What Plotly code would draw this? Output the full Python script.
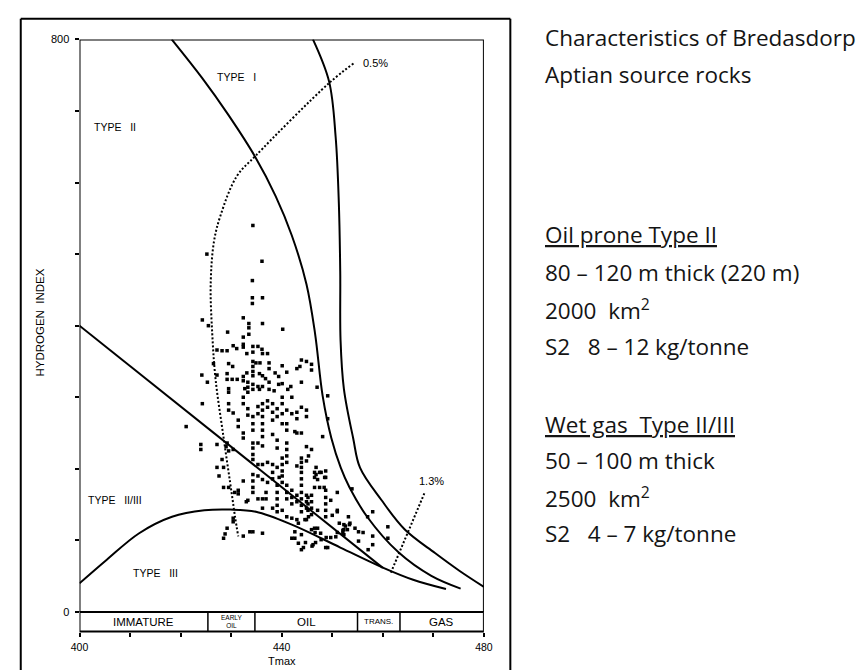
import plotly.graph_objects as go

W, H = 864, 670

# ---------------- data ----------------
# Boundary curves (Tmax °C, Hydrogen Index)
type1_tmax = [418.24, 424.28, 429.35, 434.74, 438.8, 442.0, 444.9, 446.6, 448.1, 449.83, 451.68, 453.4, 456.9, 463.1, 469.6, 475.4]
type1_hi = [800, 745.8, 695.5, 636, 581, 526, 458, 389, 302, 242.8, 201.6, 174.2, 133, 83.3, 50.4, 32.6]

outer_tmax = [446.18, 449.38, 450.67, 451.3, 451.58, 451.64, 452.31, 454.14, 455.49, 459.73, 464.35, 470.33, 475.14, 480.0]
outer_hi = [800, 741, 664, 572, 476, 380, 311.4, 242.8, 201.6, 156.4, 115.2, 82.3, 57.6, 35]

type23_tmax = [400.0, 430.0, 460.0]
type23_hi = [400, 230.8, 61.6]

type3_tmax = [400.0, 405.4, 411.8, 418.3, 424.7, 429.8, 434.9, 442.0, 451.6, 460.0, 466.0, 472.5]
type3_hi = [40, 73, 110, 133, 142, 143, 140, 122, 90, 62, 45, 32]

ro05_tmax = [454.2, 449.38, 434.93, 431.08, 427.88, 426.59, 425.95, 426.26, 426.92, 428.52, 430.12, 430.77, 431.4]
ro05_hi = [766.4, 739, 638, 608.4, 553.6, 517, 457.6, 389, 325, 242.8, 165, 133, 105.6]

ro13_tmax = [461.6, 468.3]
ro13_hi = [55, 167]

# Maturity zones along the Tmax axis
zone_edges = [400, 425.4, 434.7, 455.0, 463.4, 480]
zone_names = ["IMMATURE", "EARLY<br>OIL", "OIL", "TRANS.", "GAS"]

# Axis ticks
x_major = [400, 440, 480]
y_major = [0, 800]

# Samples (Tmax, HI)
samples = [
    (434.3, 540), (425.2, 500), (436.1, 490), (434.2, 463), (436.2, 439), (434.2, 439), (434.2, 431),
    (432.4, 411), (424.3, 408), (425.5, 400), (433.5, 403), (433.5, 397), (436.2, 403), (440.2, 395),
    (429.3, 391), (433.5, 388), (432.4, 384),
    (432.4, 374), (432.4, 370), (430.4, 372), (431.1, 368), (427.2, 366), (428.2, 365), (429.2, 365),
    (434.3, 371), (435.3, 371), (436.1, 367), (433.1, 361), (434.3, 363), (436.2, 361), (437.2, 361),
    (426.5, 347), (429.5, 347), (430.3, 343), (434.3, 350), (434.3, 343), (434.3, 336), (434.3, 330),
    (434.9, 348), (435.7, 348), (437.5, 348), (437.5, 340), (440.1, 344), (441.0, 335), (443.0, 340),
    (443.9, 352), (444.9, 350), (445.9, 346), (445.9, 338), (443.6, 343), (424.2, 331), (425.3, 321),
    (427.2, 331), (429.2, 333), (429.2, 325), (430.2, 325), (431.2, 325), (432.4, 329), (432.4, 323),
    (433.1, 334), (435.6, 333), (436.2, 330), (436.8, 326), (438.7, 334), (439.4, 329), (437.5, 321),
    (439.4, 318), (440.1, 319), (441.8, 315), (441.2, 311), (443.9, 321), (447.0, 314), (433.3, 321),
    (433.3, 314), (433.3, 307), (434.3, 318), (434.3, 311), (435.3, 315), (436.2, 315), (435.6, 311),
    (437.5, 311), (438.5, 309), (429.5, 312), (429.5, 307), (432.7, 312), (449.1, 302), (449.1, 270),
    (442.6, 252),
    (424.3, 291), (421.1, 259), (429.5, 291), (429.5, 282), (430.4, 278), (431.4, 268), (431.4, 259),
    (432.4, 300), (432.4, 291), (432.4, 250), (432.4, 243), (433.3, 284), (433.3, 275), (434.3, 273),
    (434.3, 263), (434.3, 254), (434.3, 236), (434.3, 229), (434.3, 220), (434.3, 213), (435.3, 287),
    (435.3, 277), (436.2, 291), (436.2, 282), (436.2, 273), (436.2, 263), (436.2, 254), (436.2, 245),
    (435.3, 236), (436.2, 232), (437.2, 295), (437.2, 286), (438.2, 291), (438.2, 279), (438.2, 268),
    (438.2, 248), (439.1, 284), (439.1, 273), (440.1, 300), (440.1, 291), (440.1, 277), (440.1, 263),
    (441.0, 282), (441.0, 263), (441.0, 254), (441.0, 236), (441.0, 227), (441.0, 218), (441.0, 209),
    (439.1, 240), (439.1, 229), (442.0, 300), (442.0, 277), (443.0, 279), (443.0, 270), (443.9, 286),
    (443.9, 250), (444.9, 282), (444.9, 273), (443.0, 250), (444.9, 231), (445.9, 227), (448.1, 245),
    (443.9, 215), (443.9, 209), (443.9, 202), (443.0, 204), (440.1, 215), (440.1, 206), (440.1, 197),
    (440.1, 190), (438.2, 206), (438.2, 195), (437.2, 209), (436.2, 206), (435.3, 206), (439.1, 202),
    (434.3, 192), (434.3, 183), (434.3, 174), (434.3, 167), (435.3, 190), (436.2, 185), (437.2, 181),
    (438.2, 186), (439.5, 188), (440.1, 181), (439.1, 177), (439.1, 167), (439.1, 158), (439.1, 149),
    (439.1, 140), (441.0, 177), (441.0, 167), (441.0, 158), (442.0, 170), (442.0, 160), (442.0, 151),
    (443.0, 163), (443.0, 154), (443.9, 195), (443.9, 186), (443.9, 177), (443.9, 167), (443.9, 158),
    (443.9, 149), (443.9, 140), (444.9, 163), (444.9, 154), (444.9, 145), (445.9, 163), (445.9, 154),
    (445.9, 145), (445.9, 136), (446.8, 202), (446.8, 192), (447.8, 195), (448.5, 188), (447.1, 185),
    (444.9, 211), (445.3, 218), (448.7, 170), (448.7, 160), (448.7, 151), (448.7, 142), (448.7, 133),
    (449.7, 156), (451.0, 167), (453.9, 172), (450.0, 135), (451.0, 142), (447.1, 142), (441.0, 133),
    (442.0, 131), (443.0, 129), (443.3, 124), (444.9, 129), (440.1, 142), (436.9, 167), (436.9, 158),
    (438.2, 145), (436.2, 145), (435.3, 158), (436.2, 158), (433.3, 156), (431.4, 170), (431.4, 165),
    (432.4, 183), (428.5, 174), (429.5, 174), (427.6, 190), (428.5, 202), (427.2, 202), (427.2, 234),
    (429.2, 236), (424.0, 234), (424.0, 227), (429.0, 231), (429.5, 225), (430.4, 227), (428.2, 213),
    (430.7, 167), (428.5, 103), (429.2, 117), (432.4, 106), (434.3, 112), (436.2, 110), (433.0, 154),
    (442.6, 112), (442.6, 103), (443.9, 108), (445.9, 115), (446.6, 111), (447.1, 117), (452.3, 122),
    (452.3, 115), (452.3, 108), (452.6, 120), (453.0, 115), (453.5, 124), (454.5, 117), (453.2, 133),
    (451.0, 111), (458.0, 140), (457.0, 133), (456.1, 111), (458.0, 106),
    (461.0, 119), (461.0, 103), (458.0, 94), (457.1, 87), (455.2, 112), (455.2, 99), (451.4, 124),
    (453.4, 122), (452.1, 114), (452.1, 110), (450.7, 105), (449.7, 104), (448.8, 104), (449.1, 90),
    (446.7, 97), (446.0, 92), (444.7, 97), (447.7, 110), (446.5, 117), (444.6, 129), (445.3, 133),
    (444.3, 90), (448.7, 197), (448.7, 188), (451.0, 140), (446.5, 195), (446.5, 188), (447.5, 195),
    (446.5, 174), (447.5, 174), (448.4, 174), (445.2, 160), (445.2, 151), (445.2, 142),
    (428.8, 109), (430.4, 131), (430.4, 126), (442.0, 103), (443.3, 96), (443.9, 87), (446.2, 94),
    (447.8, 101), (448.7, 90), (433.7, 112),
]
sample_tmax = [s[0] for s in samples]
sample_hi = [s[1] for s in samples]

# Right-hand notes
title_lines = ["Characteristics of Bredasdorp", "Aptian source rocks"]
oil_lines = ["<u>Oil prone Type II</u>", "80 \u2013 120 m thick (220 m)", "2000  km<sup>2</sup>",
             "S2   8 \u2013 12 kg/tonne"]
gas_lines = ["<u>Wet gas  Type II/III</u>", "50 \u2013 100 m thick", "2500  km<sup>2</sup>",
             "S2   4 \u2013 7 kg/tonne"]

# ---------------- layout helpers ----------------
def px(x):
    return x / W


def py(y):
    return 1 - y / H


PLOT_L, PLOT_R, PLOT_T, PLOT_B = 72, 485, 34, 617
BAND_B = 637

LAB = "Liberation Sans, Arial, sans-serif"
SANS = "Open Sans, Noto Sans, sans-serif"

fig = go.Figure()

line_kw = dict(color="black", width=2)
for xs, ys, shp in [(type1_tmax, type1_hi, "spline"), (outer_tmax, outer_hi, "spline"),
                    (type23_tmax, type23_hi, "linear"), (type3_tmax, type3_hi, "spline")]:
    fig.add_trace(go.Scatter(x=xs, y=ys, mode="lines", line=dict(shape=shp, **line_kw),
                             hoverinfo="skip", showlegend=False))

for xs, ys in [(ro05_tmax, ro05_hi), (ro13_tmax, ro13_hi)]:
    fig.add_trace(go.Scatter(x=xs, y=ys, mode="lines",
                             line=dict(color="black", width=2, dash="2px,2px", shape="spline"),
                             hoverinfo="skip", showlegend=False))

fig.add_trace(go.Scatter(x=sample_tmax, y=sample_hi, mode="markers",
                         marker=dict(symbol="square", size=3.5, color="black", line=dict(width=0)),
                         showlegend=False, cliponaxis=False))

shapes = []
# plot frame
shapes.append(dict(type="rect", xref="x", yref="y", x0=400, x1=480, y0=0, y1=800,
                   line=dict(color="black", width=2)))
# maturity band
shapes.append(dict(type="rect", xref="x", yref="paper", x0=400, x1=480, y0=py(BAND_B), y1=py(PLOT_B),
                   line=dict(color="black", width=2)))
for e in zone_edges[1:-1]:
    shapes.append(dict(type="line", xref="x", yref="paper", x0=e, x1=e, y0=py(BAND_B), y1=py(PLOT_B),
                       line=dict(color="black", width=1.5)))
# outer frame (left, top, right; bottom runs off the page)
frame = dict(color="black", width=2)
shapes.append(dict(type="line", xref="paper", yref="paper", x0=px(12), x1=px(12), y0=-0.05, y1=py(13), line=frame))
shapes.append(dict(type="line", xref="paper", yref="paper", x0=px(12), x1=px(512), y0=py(13), y1=py(13), line=frame))
shapes.append(dict(type="line", xref="paper", yref="paper", x0=px(512), x1=px(512), y0=-0.05, y1=py(13), line=frame))

annotations = []
# zone labels
zone_sizes = [11.5, 6.5, 11.5, 8, 11.5]
for i, name in enumerate(zone_names):
    cx = (zone_edges[i] + zone_edges[i + 1]) / 2
    annotations.append(dict(x=cx, y=py((PLOT_B + BAND_B) / 2), xref="x", yref="paper", text=name,
                            showarrow=False, font=dict(family=LAB, size=zone_sizes[i], color="black"),
                            xanchor="center", yanchor="middle"))

# region labels
for t, x, y in [("TYPE\u00a0\u00a0\u00a0I", 431, 748), ("TYPE\u00a0\u00a0\u00a0II", 407, 677),
                ("TYPE\u00a0\u00a0\u00a0II/III", 407, 156), ("TYPE\u00a0\u00a0\u00a0III", 415, 55)]:
    annotations.append(dict(x=x, y=y, xref="x", yref="y", text=t, showarrow=False,
                            font=dict(family=LAB, size=10.5, color="black"), xanchor="center", yanchor="middle"))

annotations.append(dict(x=455.6, y=767, xref="x", yref="y", text="0.5%", showarrow=False,
                        font=dict(family=LAB, size=11, color="black"), xanchor="left", yanchor="middle"))
annotations.append(dict(x=469.7, y=183, xref="x", yref="y", text="1.3%", showarrow=False,
                        font=dict(family=LAB, size=11, color="black"), xanchor="center", yanchor="middle"))

# axis titles
annotations.append(dict(x=px(32), y=py(322), xref="paper", yref="paper", text="HYDROGEN\u00a0\u00a0INDEX",
                        textangle=-90, showarrow=False, font=dict(family=LAB, size=11.5, color="black"),
                        xanchor="center", yanchor="middle"))
annotations.append(dict(x=440, y=py(667), xref="x", yref="paper", text="Tmax", showarrow=False,
                        font=dict(family=LAB, size=11, color="black"), xanchor="center", yanchor="middle"))

# right-hand notes
TX = px(545)
note_font = dict(family=SANS, size=22.5, color="#141414", weight=500)
for txt, yc in zip(title_lines, [32, 70]):
    annotations.append(dict(x=TX, y=py(yc), xref="paper", yref="paper", text=txt, showarrow=False,
                            font=note_font, xanchor="left", yanchor="middle"))
for txt, yc in zip(oil_lines, [233, 271, 309, 347]):
    annotations.append(dict(x=TX, y=py(yc), xref="paper", yref="paper", text=txt, showarrow=False,
                            font=note_font, xanchor="left", yanchor="middle"))
for txt, yc in zip(gas_lines, [426, 463, 500, 537]):
    annotations.append(dict(x=TX, y=py(yc), xref="paper", yref="paper", text=txt, showarrow=False,
                            font=note_font, xanchor="left", yanchor="middle"))

tick_kw = dict(ticks="outside", ticklen=4, tickwidth=1.5, tickcolor="black")

fig.update_layout(
    width=W, height=H,
    margin=dict(l=0, r=0, t=0, b=0),
    paper_bgcolor="white", plot_bgcolor="white",
    showlegend=False,
    xaxis=dict(range=[400, 480], domain=[px(PLOT_L), px(PLOT_R)], anchor="free", position=py(BAND_B),
               tickmode="array", tickvals=x_major, ticklabelstandoff=2,
               tickfont=dict(family=LAB, size=10.5, color="black"),
               minor=dict(tick0=400, dtick=10, **tick_kw), **tick_kw,
               showgrid=False, zeroline=False, showline=False, fixedrange=True),
    yaxis=dict(range=[0, 800], domain=[py(PLOT_B), py(PLOT_T)],
               tickmode="array", tickvals=y_major, ticklabelstandoff=3,
               tickfont=dict(family=LAB, size=11, color="black"),
               minor=dict(tick0=0, dtick=100, **tick_kw), **tick_kw,
               showgrid=False, zeroline=False, showline=False, fixedrange=True),
    shapes=shapes,
    annotations=annotations,
)

fig.write_html("out.html", config={"displayModeBar": False})
